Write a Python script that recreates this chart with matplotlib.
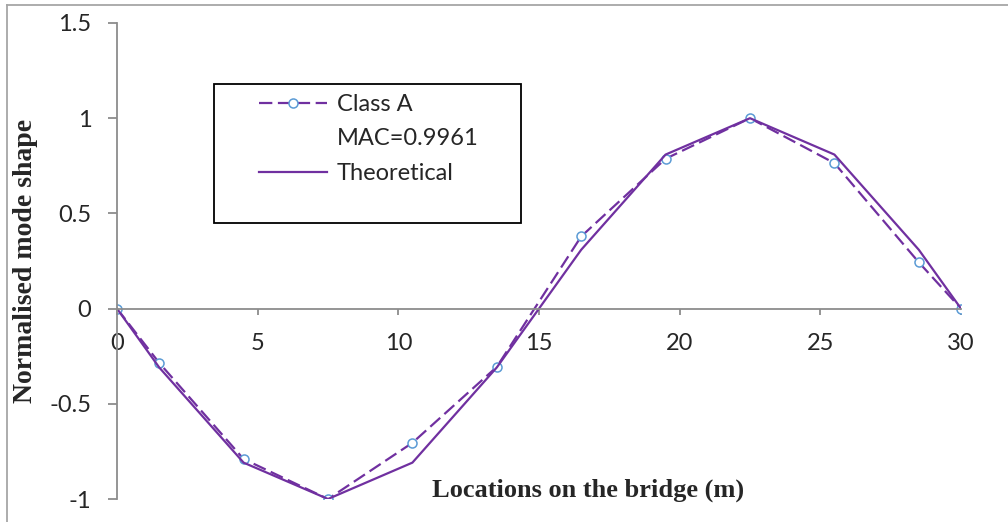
import numpy as np
import matplotlib
matplotlib.use("Agg")
import matplotlib.pyplot as plt
from matplotlib.lines import Line2D
from matplotlib.patches import Rectangle

# locations along the bridge (m)
x_loc = [0, 1.5, 4.5, 7.5, 10.5, 13.5, 16.5, 19.5, 22.5, 25.5, 28.5, 30]
class_a = [0, -0.285, -0.79, -1.0, -0.705, -0.306, 0.379, 0.787, 1.0, 0.764, 0.243, 0]
theoretical = [0, -0.309, -0.809, -1.0, -0.809, -0.309, 0.309, 0.809, 1.0, 0.809, 0.309, 0]
x_ticks = [0, 5, 10, 15, 20, 25, 30]
y_ticks = [-1, -0.5, 0, 0.5, 1, 1.5]
y_tick_labels = ["-1", "-0.5", "0", "0.5", "1", "1.5"]

purple = "#7030a0"
marker_blue = "#5b9bd5"
axis_grey = "#8c8c8c"
text_col = "#262626"

plt.rcParams["font.family"] = ["Lato", "DejaVu Sans"]

fig = plt.figure(figsize=(10.08, 5.22), dpi=100)
ax = fig.add_axes([117 / 1008, 1 - 499 / 522, (961 - 117) / 1008, (499 - 23) / 522])

ax.plot(x_loc, class_a, color=purple, lw=1.6, dashes=(6, 2.5), marker="o",
        ms=6.5, mfc="white", mec=marker_blue, mew=1.1, label="Class A")
ax.plot(x_loc, theoretical, color=purple, lw=1.6, label="Theoretical")

ax.set_xlim(0, 30)
ax.set_ylim(-1, 1.5)
ax.set_yticks(y_ticks)
ax.set_yticklabels(y_tick_labels)
ax.set_xticks(x_ticks)

for s in ["top", "right"]:
    ax.spines[s].set_visible(False)
ax.spines["bottom"].set_position(("data", 0))
ax.spines["bottom"].set_color(axis_grey)
ax.spines["left"].set_color(axis_grey)
ax.spines["bottom"].set_linewidth(1.3)
ax.spines["left"].set_linewidth(1.3)
ax.tick_params(axis="y", direction="out", length=6.5, width=1.3, color=axis_grey,
               labelsize=17, labelcolor=text_col, pad=12)
ax.tick_params(axis="x", direction="out", length=4.5, width=1.3, color=axis_grey,
               labelsize=17, labelcolor=text_col, pad=13)

ax.set_ylabel("Normalised mode shape", family="Liberation Serif", fontweight="bold",
              fontsize=20, color=text_col)
ax.yaxis.set_label_coords((38 - 117) / 844, 0.5)
fig.text(588 / 1008, 1 - 490 / 522, "Locations on the bridge (m)", family="Liberation Serif",
         fontweight="bold", fontsize=19, color=text_col, ha="center", va="center")

# legend box
fig.add_artist(Rectangle((214 / 1008, 1 - 223 / 522), (521 - 214) / 1008, (223 - 84) / 522,
                         transform=fig.transFigure, fill=False, ec="black", lw=1.3))
handles = [
    Line2D([], [], color=purple, lw=1.6, dashes=(6, 2.5), marker="o", ms=6.5,
           mfc="white", mec=marker_blue, mew=1.1),
    Line2D([], [], color="none"),
    Line2D([], [], color=purple, lw=1.6),
]
labels = ["Class A", "MAC=0.9961", "Theoretical"]
leg = ax.legend(handles, labels, loc="upper left", bbox_to_anchor=(259 / 1008, 1 - 94 / 522),
                bbox_transform=fig.transFigure, fontsize=17, frameon=False,
                handlelength=2.9, handletextpad=0.4, borderpad=0.0, labelspacing=0.57,
                borderaxespad=0)
for t in leg.get_texts():
    t.set_color(text_col)

# outer frame
fig.add_artist(Line2D([7 / 1008, 7 / 1008], [0, 1 - 5 / 522], color="#a6a6a6", lw=1.3,
                      transform=fig.transFigure))
fig.add_artist(Line2D([7 / 1008, 1], [1 - 5 / 522, 1 - 5 / 522], color="#a6a6a6", lw=1.3,
                      transform=fig.transFigure))

fig.savefig("out.png", dpi=100)
